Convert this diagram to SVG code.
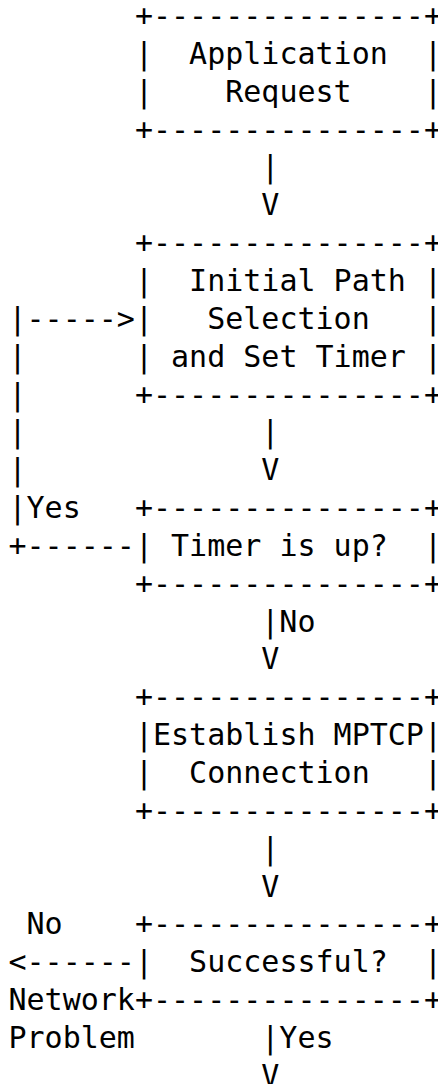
<svg xmlns="http://www.w3.org/2000/svg" width="438" height="1084" viewBox="0 0 438 1084" xml:space="preserve">
<style>
text{font-family:"DejaVu Sans Mono",monospace;font-size:30px;fill:#000;white-space:pre}
</style>
<rect width="438" height="1084" fill="#fff"/>
<g id="node-application-request">
<text x="134.9" y="26">+---------------+</text>
<text x="134.9" y="63.85">|  Application  |</text>
<text x="134.9" y="101.7">|    Request    |</text>
<text x="134.9" y="139.55">+---------------+</text>
</g>
<g id="node-initial-path">
<text x="134.9" y="253.1">+---------------+</text>
<text x="134.9" y="290.95">|  Initial Path |</text>
<text x="134.9" y="328.8">|   Selection   |</text>
<text x="134.9" y="366.65">| and Set Timer |</text>
<text x="134.9" y="404.5">+---------------+</text>
</g>
<g id="node-timer">
<text x="134.9" y="518.05">+---------------+</text>
<text x="134.9" y="555.9">| Timer is up?  |</text>
<text x="134.9" y="593.75">+---------------+</text>
</g>
<g id="node-establish">
<text x="134.9" y="707.3">+---------------+</text>
<text x="134.9" y="745.15">|Establish MPTCP|</text>
<text x="134.9" y="783">|  Connection   |</text>
<text x="134.9" y="820.85">+---------------+</text>
</g>
<g id="node-successful">
<text x="134.9" y="934.4">+---------------+</text>
<text x="134.9" y="972.25">|  Successful?  |</text>
<text x="134.9" y="1010.1">+---------------+</text>
</g>
<g id="connectors">
<text x="261.3" y="177.4">|</text>
<text x="261.3" y="215.25">V</text>
<text x="8.5" y="328.8">|-----&gt;</text>
<text x="8.5" y="366.65">|</text>
<text x="8.5" y="404.5">|</text>
<text x="8.5" y="442.35">|</text>
<text x="8.5" y="480.2">|</text>
<text x="261.3" y="442.35">|</text>
<text x="261.3" y="480.2">V</text>
<text x="8.5" y="518.05">|Yes</text>
<text x="8.5" y="555.9">+------</text>
<text x="261.3" y="631.6">|No</text>
<text x="261.3" y="669.45">V</text>
<text x="261.3" y="858.7">|</text>
<text x="261.3" y="896.55">V</text>
<text x="26.56" y="934.4">No</text>
<text x="8.5" y="972.25">&lt;------</text>
<text x="8.5" y="1010.1">Network</text>
<text x="8.5" y="1047.95">Problem</text>
<text x="261.3" y="1047.95">|Yes</text>
<text x="261.3" y="1085.8">V</text>
</g>
</svg>
